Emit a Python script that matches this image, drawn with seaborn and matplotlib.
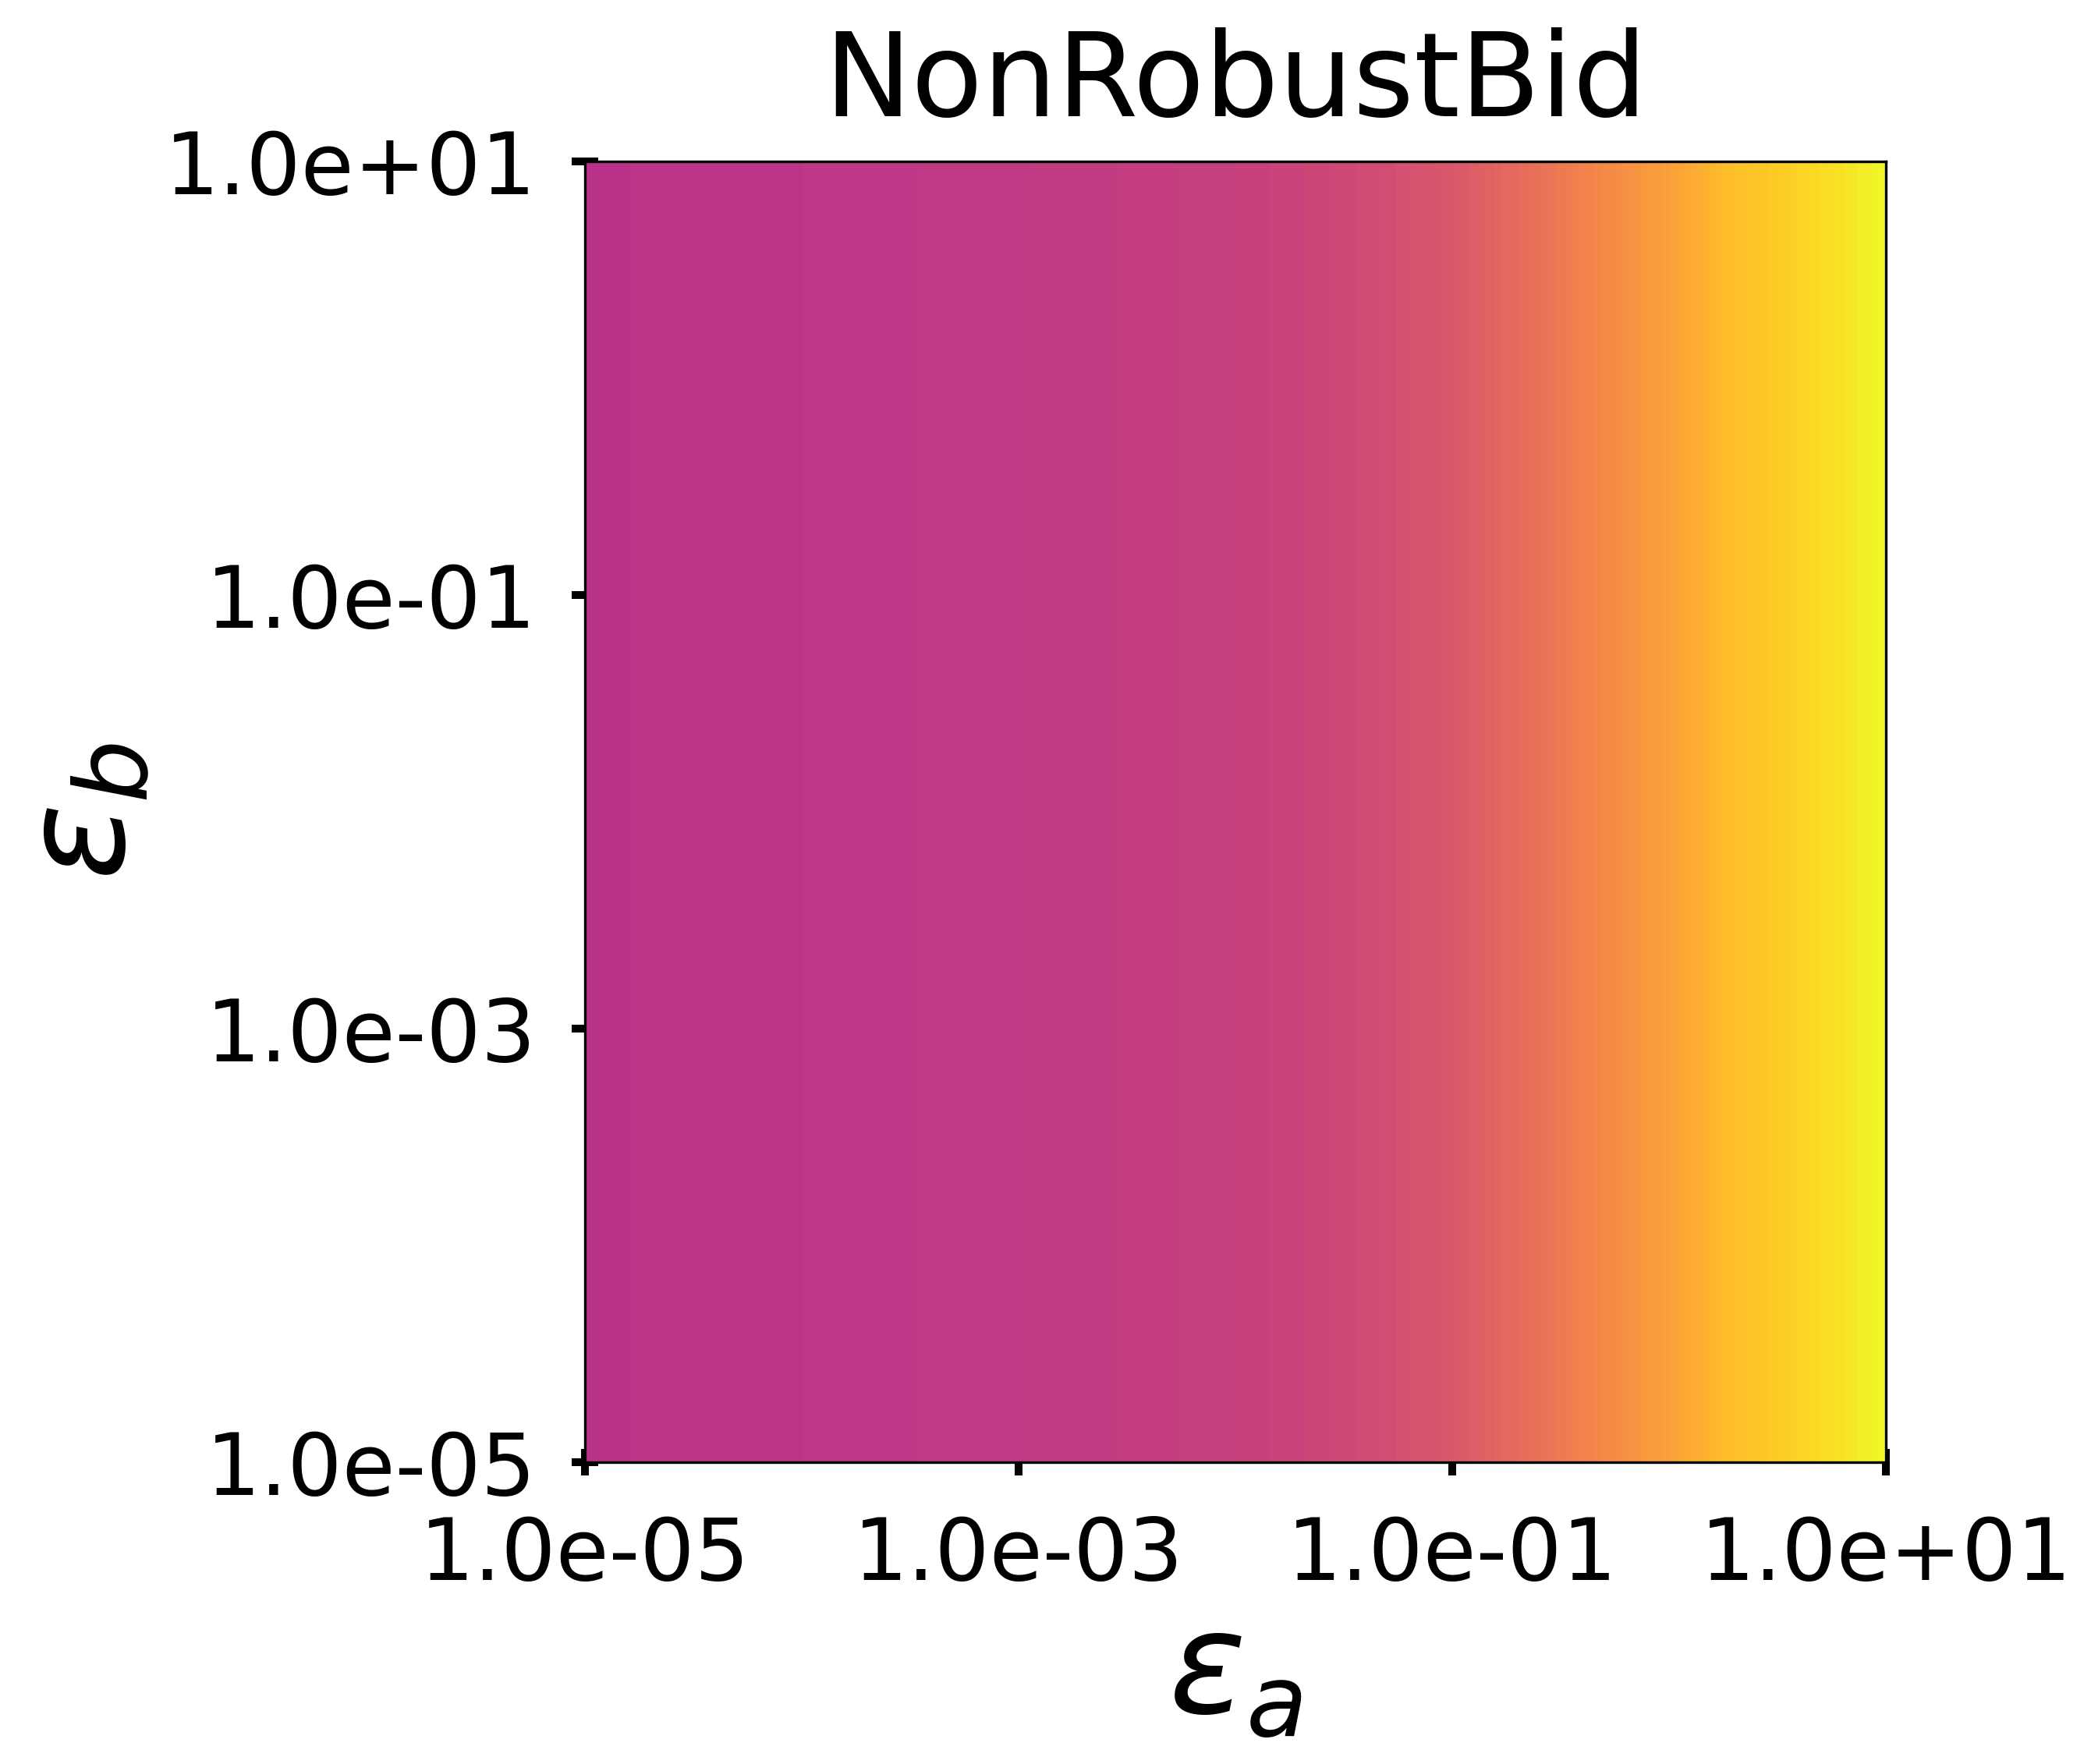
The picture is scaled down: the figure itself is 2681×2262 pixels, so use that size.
import numpy as np
import matplotlib
matplotlib.use("Agg")
import matplotlib.pyplot as plt
import seaborn as sns
from matplotlib.colors import Normalize
from matplotlib.ticker import FuncFormatter

# valores (log10 eps_a -> valor normalizado na escala plasma)
log_eps_a = [-5.0, -4.0, -3.0, -2.5, -2.0, -1.6, -1.33, -1.07, -1.0,
             -0.62, -0.28, 0.03, 0.28, 0.54, 0.8, 1.0]
valor_linha = [0.43, 0.44, 0.455, 0.465, 0.48, 0.50, 0.52, 0.55, 0.56,
               0.64, 0.72, 0.79, 0.86, 0.90, 0.95, 1.0]
log_eps_b = [-5.0, -3.0, -1.0, 1.0]
ticks_log = [-5, -3, -1, 1]
titulo = 'NonRobustBid'

Z = np.tile(np.array(valor_linha), (len(log_eps_b), 1))
X, Y = np.meshgrid(log_eps_a, log_eps_b)

sns.set_style("white")
plt.rcParams['font.family'] = ['DejaVu Sans']
plt.rcParams['text.color'] = 'black'
plt.rcParams['axes.labelcolor'] = 'black'
plt.rcParams['xtick.color'] = 'black'
plt.rcParams['ytick.color'] = 'black'

fig = plt.figure(figsize=(2681 / 300, 2262 / 300), dpi=300)
ax = fig.add_axes([750 / 2681, 1 - 1875 / 2262, 1668 / 2681, 1668 / 2262])

cmap = sns.color_palette("plasma", as_cmap=True)
niveis = np.linspace(0.4, 1.0, 76)
ax.contourf(X, Y, Z, levels=niveis, cmap=cmap, norm=Normalize(0, 1))

ax.set_xlim(-5, 1)
ax.set_ylim(-5, 1)
ax.set_xticks(ticks_log)
ax.set_yticks(ticks_log)
fmt = FuncFormatter(lambda v, pos: '%.1e' % (10.0 ** float(v)))
ax.xaxis.set_major_formatter(fmt)
ax.yaxis.set_major_formatter(fmt)

ax.tick_params(axis='both', which='major', direction='inout', length=8,
               width=2.4, color='black', labelcolor='black', labelsize=26.5,
               bottom=True, left=True)
ax.tick_params(axis='x', pad=12)
ax.tick_params(axis='y', pad=11)
for s in ax.spines.values():
    s.set_color('black')
    s.set_linewidth(0.8)

ax.set_title(titulo, fontsize=36, pad=14, color='black')
ax.set_xlabel(r'$\varepsilon_a$', fontsize=44, labelpad=2, color='black')
ax.set_ylabel(r'$\varepsilon_b$', fontsize=44, labelpad=3, color='black')

plt.savefig('out.png', dpi=300)
